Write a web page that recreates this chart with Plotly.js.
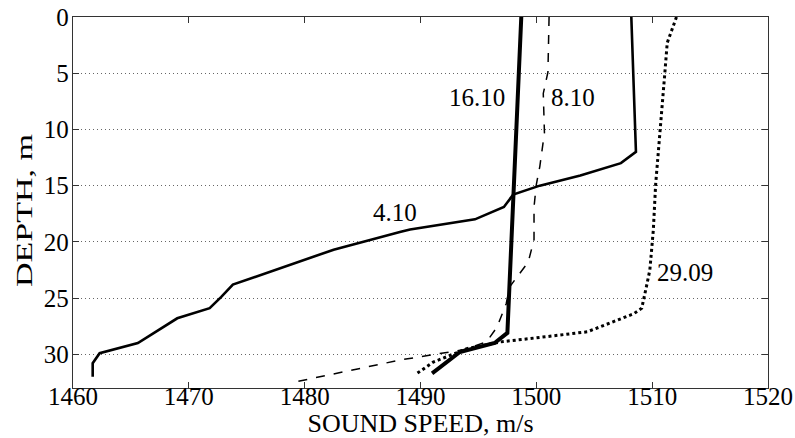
<!DOCTYPE html>
<html>
<head>
<meta charset="utf-8">
<script src="https://cdn.plot.ly/plotly-3.0.1.min.js"></script>
<style>body{margin:0;padding:0;background:#fff}#chart{width:795px;height:438px}</style>
</head>
<body>
<div id="chart"></div>
<script>
// Sound speed profiles (speed m/s, depth m)
var s0410_speed = [1508.2, 1508.6, 1507.3, 1503.8, 1500.3, 1498.0, 1497.2, 1494.7, 1489.1, 1488.3, 1482.5, 1476.1, 1473.8, 1472.8, 1471.8, 1469.0, 1465.6, 1462.3, 1461.7, 1461.7];
var s0410_depth = [0, 12.0, 13.0, 14.1, 15.0, 15.8, 16.9, 18.0, 18.9, 19.1, 20.7, 23.0, 23.8, 24.9, 25.9, 26.8, 29.0, 29.9, 30.8, 32.0];

var s1610_speed = [1498.7, 1498.0, 1497.6, 1497.5, 1496.4, 1493.4, 1491.0];
var s1610_depth = [0, 15.8, 24.9, 28.1, 29.0, 29.8, 31.7];

var s0810_speed = [1501.1, 1501.0, 1500.6, 1500.7, 1500.3, 1500.0, 1499.8, 1499.8, 1499.3, 1497.7, 1497.4, 1496.6, 1495.7, 1493.7, 1488.3, 1479.0];
var s0810_depth = [0, 4.9, 6.8, 10.3, 13.3, 14.9, 16.9, 19.8, 21.8, 24.0, 25.5, 27.6, 28.9, 29.6, 30.5, 32.5];

var s2909_speed = [1512.1, 1511.3, 1511.1, 1510.7, 1510.3, 1510.1, 1509.8, 1509.5, 1509.1, 1508.4, 1504.4, 1500.3, 1496.9, 1494.0, 1491.1, 1489.7];
var s2909_depth = [0, 2.3, 4.9, 10.0, 14.9, 18.95, 22.5, 24.0, 25.9, 26.4, 28.0, 28.5, 28.9, 29.5, 30.7, 31.7];

var labels = ["4.10", "16.10", "8.10", "29.09"];
var labelX = [1487.8, 1494.9, 1503.2, 1512.8];
var labelY = [17.4, 7.2, 7.2, 22.7];

var xTicks = [1460, 1470, 1480, 1490, 1500, 1510, 1520];
var yTicks = [0, 5, 10, 15, 20, 25, 30];

var fontFam = "Liberation Serif";

var traces = [
  {x: s0410_speed, y: s0410_depth, mode: "lines", line: {color: "#000", width: 2.6}, hoverinfo: "skip"},
  {x: s1610_speed, y: s1610_depth, mode: "lines", line: {color: "#000", width: 4}, hoverinfo: "skip"},
  {x: s0810_speed, y: s0810_depth, mode: "lines", line: {color: "#000", width: 1.5, dash: "dash"}, hoverinfo: "skip"},
  {x: s2909_speed, y: s2909_depth, mode: "lines", line: {color: "#000", width: 3, dash: "dot"}, hoverinfo: "skip"}
];

var annotations = labels.map(function (t, i) {
  return {x: labelX[i], y: labelY[i], xref: "x", yref: "y", text: t, showarrow: false,
    font: {family: fontFam, size: 25, color: "#000"}, xanchor: "center", yanchor: "middle"};
});

var layout = {
  width: 795, height: 438,
  margin: {l: 73, r: 27, t: 17, b: 50},
  paper_bgcolor: "#fff", plot_bgcolor: "#fff",
  showlegend: false,
  font: {family: fontFam, color: "#000", size: 24},
  xaxis: {
    range: [1460, 1520], tickvals: xTicks, ticktext: xTicks.map(String),
    ticks: "inside", ticklen: 6, tickcolor: "#333", tickwidth: 1,
    showline: true, linecolor: "#333", linewidth: 1.2, mirror: "ticks",
    showgrid: false, zeroline: false,
    ticklabelstandoff: -14,
    tickfont: {family: fontFam, size: 25, color: "#000"},
    title: {text: "SOUND SPEED, m/s", font: {family: fontFam, size: 26, color: "#000"}, standoff: 0}
  },
  yaxis: {
    range: [33, 0], tickvals: yTicks, ticktext: yTicks.map(String),
    ticks: "inside", ticklen: 6, tickcolor: "#333", tickwidth: 1,
    showline: true, linecolor: "#333", linewidth: 1.2, mirror: "ticks",
    showgrid: true, gridcolor: "#666", gridwidth: 1, griddash: "1px,3px",
    zeroline: false,
    ticklabelstandoff: -2,
    tickfont: {family: fontFam, size: 25, color: "#000"},
    title: {text: "DEPTH, m", font: {family: fontFam, size: 23, color: "#000"}, standoff: 4}
  },
  annotations: annotations
};

Plotly.newPlot("chart", traces, layout, {staticPlot: true, displayModeBar: false}).then(function (gd) {
  var yt = gd.querySelector(".ytitle");
  if (yt) {
    yt.setAttribute("textLength", "153");
    yt.setAttribute("lengthAdjust", "spacingAndGlyphs");
    var tx = parseFloat(yt.getAttribute("x")), ty = parseFloat(yt.getAttribute("y"));
    if (!isNaN(tx) && !isNaN(ty)) {
      var ny = ty + 8;
      yt.setAttribute("y", ny);
      yt.setAttribute("transform", "rotate(-90," + tx + "," + ny + ")");
    }
  }
});
</script>
</body>
</html>
